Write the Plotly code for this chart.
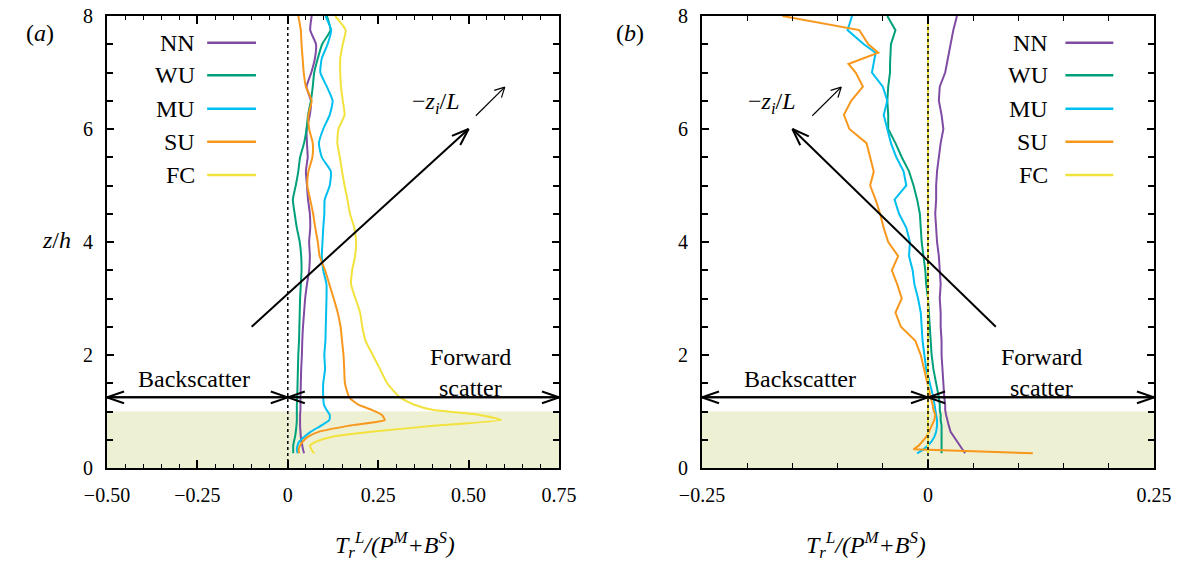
import math
import plotly.graph_objects as go

# ---------------- data ----------------
series_names = ["NN", "WU", "MU", "SU", "FC"]
series_colors = ["#7f4ba3", "#00a07a", "#00bfef", "#f7981d", "#f2e23c"]

# panel (a)
z_a = [0.26, 0.33, 0.40, 0.47, 0.55, 0.64, 0.75, 0.85, 0.94, 1.03, 1.12, 1.25,
       1.5, 1.75, 2.0, 2.25, 2.5, 2.75, 3.0, 3.25, 3.5, 3.75, 4.0, 4.25, 4.5,
       4.75, 5.0, 5.25, 5.5, 5.75, 6.0, 6.25, 6.5, 6.75, 7.0, 7.25, 7.5, 7.75, 8.0]
nn_a = [0.045, 0.042, 0.040, 0.038, 0.036, 0.035, 0.034, 0.034, 0.034, 0.035, 0.035, 0.035,
        0.036, 0.037, 0.039, 0.040, 0.042, 0.045, 0.048, 0.053, 0.059, 0.061, 0.059, 0.062, 0.061,
        0.056, 0.053, 0.050, 0.055, 0.053, 0.052, 0.061, 0.064, 0.052, 0.065, 0.075, 0.078, 0.062, 0.066]
wu_a = [0.015, 0.015, 0.015, 0.017, 0.020, 0.022, 0.024, 0.025, 0.025, 0.025, 0.025, 0.026,
        0.027, 0.028, 0.029, 0.031, 0.032, 0.033, 0.034, 0.036, 0.038, 0.037, 0.033, 0.025, 0.019,
        0.014, 0.022, 0.029, 0.034, 0.045, 0.052, 0.056, 0.064, 0.069, 0.073, 0.083, 0.095, 0.118, 0.108]
mu_a = [0.027, 0.025, 0.027, 0.032, 0.045, 0.063, 0.092, 0.115, 0.116, 0.107, 0.100, 0.098,
        0.098, 0.103, 0.101, 0.104, 0.105, 0.106, 0.107, 0.107, 0.098, 0.094, 0.096, 0.098, 0.101,
        0.102, 0.116, 0.119, 0.094, 0.086, 0.098, 0.116, 0.124, 0.108, 0.090, 0.094, 0.110, 0.120, 0.104]
su_a = [0.031, 0.030, 0.034, 0.042, 0.055, 0.085, 0.170, 0.268, 0.260, 0.232, 0.195, 0.170,
        0.158, 0.156, 0.154, 0.150, 0.146, 0.138, 0.127, 0.115, 0.103, 0.088, 0.083, 0.076, 0.070,
        0.062, 0.054, 0.057, 0.068, 0.069, 0.059, 0.057, 0.066, 0.050, 0.044, 0.041, 0.038, 0.036, 0.029]
fc_a = [0.073, 0.065, 0.062, 0.080, 0.120, 0.230, 0.410, 0.590, 0.531, 0.400, 0.350, 0.310,
        0.275, 0.255, 0.235, 0.215, 0.206, 0.200, 0.187, 0.175, 0.178, 0.186, 0.189, 0.184, 0.172,
        0.165, 0.157, 0.150, 0.144, 0.137, 0.140, 0.157, 0.152, 0.147, 0.145, 0.145, 0.152, 0.160, 0.131]

# panel (b)
z_b = [0.26, 0.33, 0.40, 0.47, 0.55, 0.64, 0.75, 0.85, 0.94, 1.03, 1.12, 1.25,
       1.5, 1.75, 2.0, 2.25, 2.5, 2.75, 3.0, 3.25, 3.5, 3.75, 4.0, 4.25, 4.5,
       4.75, 5.0, 5.25, 5.5, 5.75, 6.0, 6.25, 6.5, 6.75, 7.0, 7.15, 7.35, 7.5, 7.75, 8.0]
nn_b = [0.041, 0.038, 0.035, 0.032, 0.028, 0.025, 0.023, 0.021, 0.020, 0.019, 0.019, 0.018,
        0.017, 0.016, 0.015, 0.015, 0.014, 0.014, 0.013, 0.014, 0.013, 0.012, 0.010, 0.009, 0.008,
        0.009, 0.009, 0.010, 0.012, 0.014, 0.017, 0.015, 0.012, 0.013, 0.019, 0.021, 0.023, 0.025, 0.028, 0.032]
wu_b = [0.015, 0.015, 0.015, 0.015, 0.015, 0.015, 0.015, 0.014, 0.014, 0.013, 0.013, 0.012,
        0.009, 0.006, 0.004, 0.003, 0.002, 0.001, 0.000, -0.002, -0.003, -0.005, -0.007, -0.008, -0.009,
        -0.012, -0.016, -0.021, -0.029, -0.036, -0.044, -0.044, -0.045, -0.044, -0.042, -0.042, -0.041,
        -0.041, -0.036, -0.045]
mu_b = [-0.012, -0.005, 0.000, 0.004, 0.007, 0.009, 0.010, 0.010, 0.009, 0.008, 0.007, 0.006,
        0.002, -0.002, -0.004, -0.006, -0.007, -0.008, -0.011, -0.015, -0.017, -0.021, -0.020, -0.024, -0.032,
        -0.037, -0.024, -0.027, -0.035, -0.041, -0.045, -0.049, -0.045, -0.050, -0.062, -0.060, -0.058,
        -0.071, -0.089, -0.084]
su_b = [0.116, -0.016, -0.010, -0.006, -0.002, 0.001, 0.004, 0.007, 0.008, 0.006, 0.005, 0.003,
        -0.001, -0.005, -0.008, -0.014, -0.030, -0.036, -0.029, -0.034, -0.040, -0.033, -0.044, -0.049, -0.053,
        -0.058, -0.064, -0.060, -0.064, -0.068, -0.087, -0.093, -0.085, -0.072, -0.080, -0.088, -0.055,
        -0.066, -0.076, -0.161]
fc_b = [0.0] * len(z_b)

xticks_a = [-0.5, -0.25, 0, 0.25, 0.5, 0.75]
xticktext_a = ["\u22120.50", "\u22120.25", "0", "0.25", "0.50", "0.75"]
xticks_b = [-0.25, 0, 0.25]
xticktext_b = ["\u22120.25", "0", "0.25"]
yticks = [0, 2, 4, 6, 8]

# ---------------- layout geometry ----------------
W, H = 1190, 569
ax_a = (107, 559)
ax_b = (702, 1154)
ay = (16, 468)
xr_a = [-0.5, 0.75]
xr_b = [-0.25, 0.25]
yr = [0, 8]
sx_a = (ax_a[1] - ax_a[0]) / (xr_a[1] - xr_a[0])
sx_b = (ax_b[1] - ax_b[0]) / (xr_b[1] - xr_b[0])
sy = (ay[1] - ay[0]) / (yr[1] - yr[0])

FONT = "Liberation Serif"

fig = go.Figure()

panel_data = [
    ("x", "y", z_a, [nn_a, wu_a, mu_a, su_a, fc_a], "spline"),
    ("x2", "y2", z_b, [nn_b, wu_b, mu_b, su_b, fc_b], "linear"),
]
for xa, ya, zz, vals, shp in panel_data:
    for name, v, c in zip(series_names, vals, series_colors):
        ln = dict(color=c, width=2, shape=shp)
        if shp == "spline":
            ln["smoothing"] = 0.5
        fig.add_trace(go.Scatter(x=v, y=zz, mode="lines", name=name, line=ln,
                                 xaxis=xa, yaxis=ya, showlegend=False,
                                 hoverinfo="skip"))

shapes = []
annotations = []


def arrow(xref, yref, x0, y0, x1, y1, sx, width, hl, ang):
    shapes.append(dict(type="line", xref=xref, yref=yref, x0=x0, y0=y0, x1=x1, y1=y1,
                       line=dict(color="black", width=width), layer="above"))
    dx = (x1 - x0) * sx
    dy = (y1 - y0) * sy
    L = math.hypot(dx, dy)
    ux, uy = dx / L, dy / L
    for s in (1, -1):
        a = math.radians(ang) * s
        bx = ux * math.cos(a) - uy * math.sin(a)
        by = ux * math.sin(a) + uy * math.cos(a)
        shapes.append(dict(type="line", xref=xref, yref=yref,
                           x0=x1 - hl * bx / sx, y0=y1 - hl * by / sy, x1=x1, y1=y1,
                           line=dict(color="black", width=width), layer="above"))


for xref, yref, xr, sx in (("x", "y", xr_a, sx_a), ("x2", "y2", xr_b, sx_b)):
    shapes.append(dict(type="rect", xref=xref + " domain", yref=yref, x0=0, x1=1, y0=0, y1=1,
                       fillcolor="#eef0d4", line=dict(width=0), layer="below"))
    shapes.append(dict(type="line", xref=xref, yref=yref + " domain", x0=0, x1=0, y0=0, y1=1,
                       line=dict(color="black", width=1.5, dash="dot"), layer="above"))
    arrow(xref, yref, 0, 1.25, xr[0], 1.25, sx, 2, 18, 19)
    arrow(xref, yref, xr[0], 1.25, 0, 1.25, sx, 2, 18, 19)
    arrow(xref, yref, xr[1], 1.25, 0, 1.25, sx, 2, 18, 19)
    arrow(xref, yref, 0, 1.25, xr[1], 1.25, sx, 2, 18, 19)

# diagonal arrows
arrow("x", "y", -0.1, 2.5, 0.5, 6.0, sx_a, 2, 18, 20)
arrow("x", "y", 0.52, 6.235, 0.6, 6.74, sx_a, 1.2, 11, 28)
arrow("x2", "y2", 0.075, 2.5, -0.15, 6.0, sx_b, 2, 18, 20)
arrow("x2", "y2", -0.128, 6.235, -0.096, 6.74, sx_b, 1.2, 11, 28)

tfont = dict(family=FONT, size=24, color="black")
zl = "\u2212<i>z</i><sub><i>i</i></sub>/<i>L</i>"
annotations += [
    dict(xref="x", yref="y", x=0.41, y=6.46, text=zl, showarrow=False, font=tfont),
    dict(xref="x2", yref="y2", x=-0.173, y=6.46, text=zl, showarrow=False, font=tfont),
    dict(xref="x", yref="y", x=-0.26, y=1.575, text="Backscatter", showarrow=False, font=tfont),
    dict(xref="x", yref="y", x=0.504, y=1.96, text="Forward", showarrow=False, font=tfont),
    dict(xref="x", yref="y", x=0.504, y=1.42, text="scatter", showarrow=False, font=tfont),
    dict(xref="x2", yref="y2", x=-0.142, y=1.575, text="Backscatter", showarrow=False, font=tfont),
    dict(xref="x2", yref="y2", x=0.126, y=1.96, text="Forward", showarrow=False, font=tfont),
    dict(xref="x2", yref="y2", x=0.126, y=1.42, text="scatter", showarrow=False, font=tfont),
]

# legends (text followed by line sample)
leg_rows_px = [42.7, 75.3, 108.7, 141.7, 175.0]
for xref, yref, xt, xl0, xl1 in (("x", "y", -0.251, -0.223, -0.088),
                                  ("x2", "y2", 0.135, 0.152, 0.205)):
    for name, c, py in zip(series_names, series_colors, leg_rows_px):
        yv = (ay[1] - py) / sy
        annotations.append(dict(xref=xref, yref=yref, x=xt, y=yv, text=name, showarrow=False,
                                xanchor="right", yanchor="middle", font=tfont))
        shapes.append(dict(type="line", xref=xref, yref=yref, x0=xl0, x1=xl1, y0=yv, y1=yv,
                           line=dict(color=c, width=2.5), layer="above"))

xtitle = "<i>T<sub>r</sub><sup>L</sup>/(P<sup>M</sup>+B<sup>S</sup>)</i>"
annotations += [
    dict(xref="paper", yref="paper", x=(ax_a[0] + ax_a[1]) / 2 / W, y=1 - 545 / H, text=xtitle,
         showarrow=False, font=tfont, yanchor="middle"),
    dict(xref="paper", yref="paper", x=(ax_b[0] + ax_b[1]) / 2 / W, y=1 - 545 / H, text=xtitle,
         showarrow=False, font=tfont, yanchor="middle"),
    dict(xref="paper", yref="paper", x=40 / W, y=1 - 240 / H, text="<i>z</i>/<i>h</i>",
         showarrow=False, font=tfont, xanchor="left"),
    dict(xref="paper", yref="paper", x=24 / W, y=1 - 18 / H, text="(<i>a</i>)",
         showarrow=False, font=tfont),
    dict(xref="paper", yref="paper", x=630 / W, y=1 - 18 / H, text="(<i>b</i>)",
         showarrow=False, font=tfont),
]

tickfont = dict(family=FONT, size=20, color="black")
common_x = dict(showgrid=False, zeroline=False, showline=True, linecolor="black", linewidth=2,
                mirror="ticks", ticks="inside", ticklen=8, tickwidth=1.5, tickcolor="black",
                tickfont=tickfont, ticklabelstandoff=8, automargin=False)
common_y = dict(showgrid=False, zeroline=False, showline=True, linecolor="black", linewidth=2,
                mirror="ticks", ticks="inside", ticklen=7, tickwidth=1.5, tickcolor="black",
                tickfont=tickfont, range=yr, tickvals=yticks, ticklabelstandoff=8, automargin=False,
                minor=dict(dtick=0.5, tick0=0, ticks="inside", ticklen=6, tickwidth=1.5,
                           tickcolor="black", showgrid=False))

fig.update_layout(
    width=W, height=H, margin=dict(l=0, r=0, t=0, b=0, autoexpand=False),
    paper_bgcolor="white", plot_bgcolor="white", showlegend=False,
    xaxis=dict(common_x, domain=[ax_a[0] / W, ax_a[1] / W], range=xr_a, anchor="y",
               tickvals=xticks_a, ticktext=xticktext_a,
               minor=dict(dtick=0.05, tick0=0, ticks="inside", ticklen=4, tickwidth=1.2,
                          tickcolor="black", showgrid=False)),
    yaxis=dict(common_y, domain=[1 - ay[1] / H, 1 - ay[0] / H], anchor="x"),
    xaxis2=dict(common_x, domain=[ax_b[0] / W, ax_b[1] / W], range=xr_b, anchor="y2",
                tickvals=xticks_b, ticktext=xticktext_b,
                minor=dict(dtick=0.05, tick0=0, ticks="inside", ticklen=5, tickwidth=1.2,
                           tickcolor="black", showgrid=False)),
    yaxis2=dict(common_y, domain=[1 - ay[1] / H, 1 - ay[0] / H], anchor="x2"),
    shapes=shapes, annotations=annotations,
)

fig.write_html("out.html")
